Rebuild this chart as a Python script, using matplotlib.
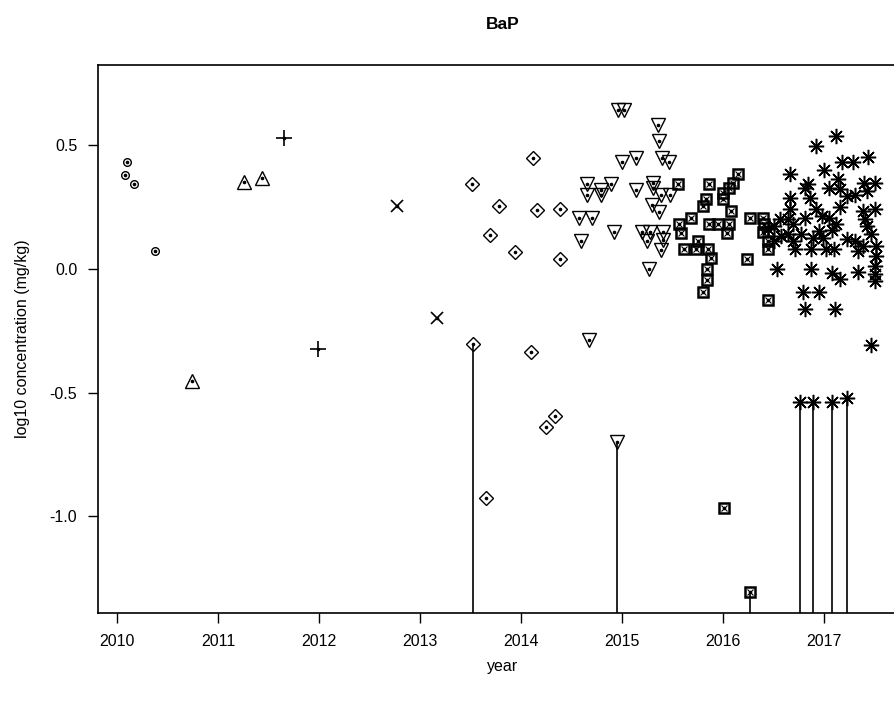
import numpy as np
import matplotlib
matplotlib.use("Agg")
import matplotlib.pyplot as plt

plt.rcParams['font.family'] = ['Liberation Sans', 'DejaVu Sans']

# data (year, log10 concentration)
circ_x = [2010.10, 2010.08, 2010.17, 2010.37]
circ_y = [0.430, 0.379, 0.341, 0.072]

tri_x = [2010.74, 2011.26, 2011.43]
tri_y = [-0.454, 0.349, 0.368]

plus_x = [2011.65, 2011.99]
plus_y = [0.527, -0.322]

cross_x = [2012.77, 2013.17]
cross_y = [0.252, -0.198]

dia_x = [2014.12, 2013.51, 2013.78, 2014.16, 2014.38, 2013.69, 2013.94,
         2014.38, 2013.52, 2014.10, 2014.33, 2014.25, 2013.65]
dia_y = [0.447, 0.342, 0.254, 0.238, 0.241, 0.136, 0.066,
         0.038, -0.302, -0.335, -0.593, -0.639, -0.924]

dtri_x = [2014.65, 2014.89, 2014.79, 2014.65, 2014.79, 2014.57, 2014.70,
          2014.92, 2014.59, 2014.67, 2014.95, 2014.96, 2015.02, 2015.35,
          2015.36, 2015.00, 2015.14, 2015.39, 2015.46, 2015.14, 2015.31,
          2015.31, 2015.38, 2015.47, 2015.30, 2015.36, 2015.20, 2015.28,
          2015.40, 2015.25, 2015.40, 2015.38, 2015.27]
dtri_y = [0.342, 0.342, 0.319, 0.298, 0.298, 0.204, 0.204,
          0.147, 0.113, -0.288, -0.701, 0.643, 0.643, 0.582,
          0.517, 0.430, 0.446, 0.446, 0.432, 0.318, 0.346,
          0.325, 0.298, 0.298, 0.258, 0.230, 0.147, 0.147,
          0.147, 0.113, 0.117, 0.075, -0.002]

sq_x = [2015.55, 2015.86, 2016.15, 2016.10, 2016.06, 2016.00, 2016.00,
        2015.83, 2015.80, 2016.08, 2015.68, 2015.56, 2015.58, 2015.86,
        2015.95, 2016.06, 2016.04, 2015.75, 2015.61, 2015.73, 2015.85,
        2015.88, 2015.84, 2015.84, 2015.80, 2016.27, 2016.39, 2016.40,
        2016.39, 2016.44, 2016.44, 2016.24, 2016.44, 2016.01, 2016.27]
sq_y = [0.342, 0.342, 0.383, 0.346, 0.325, 0.308, 0.281,
        0.281, 0.254, 0.234, 0.204, 0.180, 0.144, 0.180,
        0.180, 0.180, 0.144, 0.113, 0.079, 0.079, 0.079,
        0.045, -0.002, -0.045, -0.094, 0.207, 0.207, 0.180,
        0.147, 0.113, 0.079, 0.038, -0.126, -0.964, -1.307]

ast_x = [2017.12, 2016.92, 2017.43, 2017.29, 2017.18, 2016.66, 2017.00,
         2016.84, 2016.81, 2017.14, 2017.05, 2017.16, 2017.39, 2017.50,
         2017.42, 2016.86, 2016.66, 2017.23, 2017.31, 2016.66, 2016.92,
         2017.16, 2017.38, 2017.50, 2016.81, 2016.98, 2017.05, 2016.64,
         2016.56, 2017.12, 2017.40, 2017.42, 2016.50, 2016.69, 2016.44,
         2016.95, 2017.08, 2017.46, 2016.57, 2016.64, 2016.77, 2016.89,
         2016.99, 2017.23, 2017.31, 2016.50, 2016.69, 2017.38, 2017.51,
         2016.71, 2016.87, 2017.02, 2017.10, 2017.33, 2017.51, 2017.50,
         2017.50, 2017.50, 2016.53, 2016.87, 2017.08, 2017.16, 2017.33,
         2016.79, 2016.95, 2016.81, 2017.11, 2017.46,
         2016.76, 2016.89, 2017.08, 2017.23]
ast_y = [0.535, 0.495, 0.450, 0.432, 0.432, 0.383, 0.400,
         0.342, 0.325, 0.362, 0.325, 0.322, 0.346, 0.346,
         0.315, 0.284, 0.284, 0.295, 0.298, 0.241, 0.241,
         0.248, 0.234, 0.241, 0.207, 0.214, 0.207, 0.203,
         0.200, 0.180, 0.200, 0.173, 0.173, 0.180, 0.160,
         0.153, 0.157, 0.140, 0.133, 0.140, 0.140, 0.126,
         0.126, 0.119, 0.113, 0.113, 0.113, 0.092, 0.092,
         0.079, 0.079, 0.079, 0.079, 0.072, 0.052, 0.011,
         -0.019, -0.049, 0.001, 0.001, -0.015, -0.043, -0.013,
         -0.094, -0.094, -0.161, -0.161, -0.306,
         -0.539, -0.539, -0.539, -0.521]

# samples drawn with a drop line to the axis
stem_x = [2013.52, 2014.95, 2016.27, 2016.76, 2016.89, 2017.08, 2017.23]
stem_y = [-0.302, -0.701, -1.307, -0.539, -0.539, -0.539, -0.521]

fig = plt.figure(figsize=(8.94, 7.06), dpi=100)
ax = fig.add_axes([98 / 894, 1 - 613 / 706, (908 - 98) / 894, (613 - 65) / 706])

ylo, yhi = -1.39, 0.823
ax.vlines(stem_x, ylo, stem_y, color='black', lw=1.2, zorder=1)

kw = dict(linestyle='none', color='black', markerfacecolor='none', zorder=3)
ax.plot(circ_x, circ_y, marker='o', markersize=5.5, markeredgewidth=1.0, **kw)
ax.plot(tri_x, tri_y, marker='^', markersize=9.5, markeredgewidth=1.0, **kw)
ax.plot(plus_x, plus_y, marker='+', markersize=12, markeredgewidth=1.2, **kw)
ax.plot(cross_x, cross_y, marker='x', markersize=8, markeredgewidth=1.2, **kw)
ax.plot(dia_x, dia_y, marker='D', markersize=7.5, markeredgewidth=1.0, **kw)
ax.plot(dtri_x, dtri_y, marker='v', markersize=9.5, markeredgewidth=1.0, **kw)
ax.plot(sq_x, sq_y, marker='s', markersize=7, markeredgewidth=1.8, **kw)
ax.plot(sq_x, sq_y, marker='x', markersize=4, markeredgewidth=0.8, **kw)
ax.plot(ast_x, ast_y, marker=(8, 2, 0), markersize=11, markeredgewidth=1.1, **kw)

# centre dots on every sample
all_x = circ_x + tri_x + plus_x + cross_x + dia_x + dtri_x + sq_x + ast_x
all_y = circ_y + tri_y + plus_y + cross_y + dia_y + dtri_y + sq_y + ast_y
ax.plot(all_x, all_y, linestyle='none', marker='o', markersize=1.6,
        color='black', zorder=4)

ax.set_xlim(2009.81, 2017.83)
ax.set_ylim(ylo, yhi)
ax.set_xticks(range(2010, 2018))
ax.set_yticks([-1.0, -0.5, 0.0, 0.5])
ax.set_yticklabels(['-1.0', '-0.5', '0.0', '0.5'])
ax.tick_params(direction='out', length=7, width=1.0, labelsize=11.5, pad=8)

for s in ax.spines.values():
    s.set_linewidth(1.2)

ax.set_xlabel('year', fontsize=11.5, labelpad=7)
ax.set_ylabel('log10 concentration (mg/kg)', fontsize=11.5, labelpad=14)
ax.set_title('BaP', fontsize=12.5, fontweight='bold', pad=26)

fig.savefig('out.png', dpi=100)
